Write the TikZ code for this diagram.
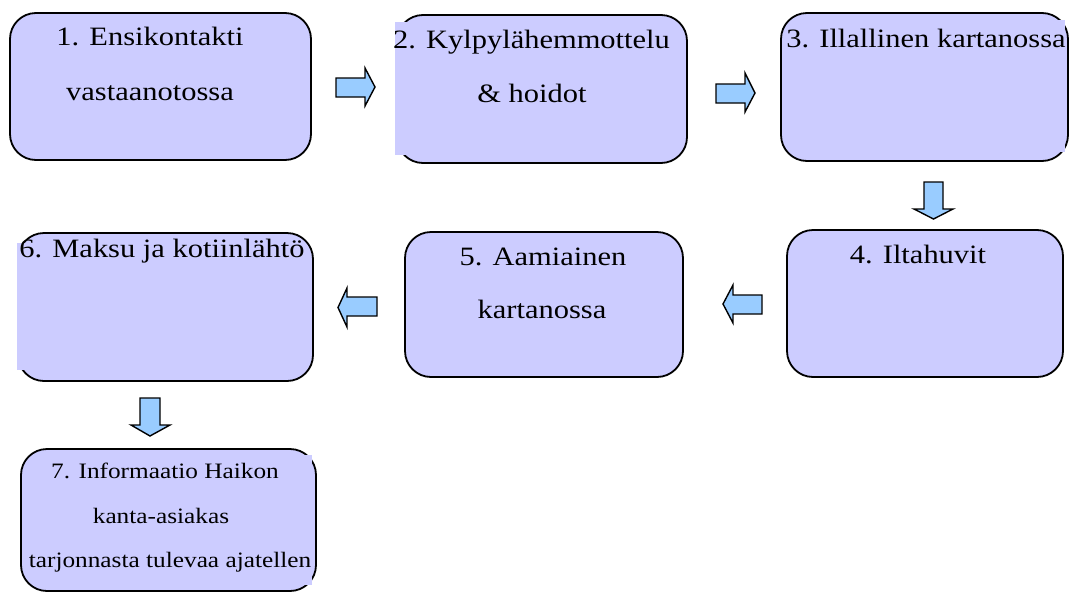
\documentclass[tikz,border=0pt]{standalone}
\usepackage{fontspec}
\setmainfont{Liberation Serif}[FakeStretch=1.15]
\definecolor{boxfill}{HTML}{CCCCFF}
\definecolor{arrowfill}{HTML}{99CCFF}
\tikzset{
  stagebox/.style={draw=black, line width=1.8pt, fill=boxfill, rounded corners=26pt,
    inner sep=0pt, outer sep=0pt},
  textbg/.style={fill=boxfill, draw=none},
  stagetext/.style={anchor=base, inner sep=0pt, text=black,
    font=\fontsize{26.5}{30}\selectfont},
  smalltext/.style={stagetext, font=\fontsize{22}{26}\selectfont},
  blockarrow/.style={draw=black, line width=1.4pt, fill=arrowfill, line join=miter},
}
\begin{document}
\begin{tikzpicture}[x=1pt, y=-1pt]
\useasboundingbox (0,0) rectangle (1074,592);

% stage boxes
\node[stagebox, minimum width=301pt, minimum height=147pt] (b1) at (160.5,86.5) {};
\node[stagebox, minimum width=290pt, minimum height=148pt] (b2) at (542,89) {};
\node[stagebox, minimum width=287pt, minimum height=148pt] (b3) at (924.5,87) {};
\node[stagebox, minimum width=276pt, minimum height=147pt] (b4) at (925,303.5) {};
\node[stagebox, minimum width=278pt, minimum height=145pt] (b5) at (544,304.5) {};
\node[stagebox, minimum width=295pt, minimum height=148pt] (b6) at (165.5,307) {};
\node[stagebox, minimum width=295pt, minimum height=142pt] (b7) at (168.5,520) {};

% square text backgrounds lying over the outlines
\fill[textbg] (395,22) rectangle (600,155);
\fill[textbg] (800,20) rectangle (1065,152);
\fill[textbg] (17,243) rectangle (200,370);
\fill[textbg] (40,455) rectangle (312,585);

% block arrows between the stages
\draw[blockarrow] (336,78) -- (365,78) -- (365,68) -- (375,87) -- (365,106) -- (365,97) -- (336,97) -- cycle;
\draw[blockarrow] (716,84) -- (745,84) -- (745,73) -- (755,93) -- (745,112) -- (745,103) -- (716,103) -- cycle;
\draw[blockarrow] (924,182) -- (943,182) -- (943,209) -- (953,209) -- (933.5,219) -- (914,209) -- (924,209) -- cycle;
\draw[blockarrow] (762,295) -- (733,295) -- (733,285) -- (723,304) -- (733,323) -- (733,314) -- (762,314) -- cycle;
\draw[blockarrow] (377,297) -- (347,297) -- (347,288) -- (338,307.5) -- (347,327) -- (347,316) -- (377,316) -- cycle;
\draw[blockarrow] (140,398) -- (160,398) -- (160,425) -- (170,425) -- (150,436) -- (131,425) -- (140,425) -- cycle;

% labels
\node[stagetext] (t1a) at (150,45) {1. Ensikontakti};
\node[stagetext] (t1b) at (150,100) {vastaanotossa};
\node[stagetext] (t2a) at (531.5,48) {2. Kylpylähemmottelu};
\node[stagetext] (t2b) at (532,102) {\& hoidot};
\node[stagetext] (t3) at (926,47) {3. Illallinen kartanossa};
\node[stagetext] (t4) at (918,263) {4. Iltahuvit};
\node[stagetext] (t5a) at (543,265) {5. Aamiainen};
\node[stagetext] (t5b) at (542,318) {kartanossa};
\node[stagetext] (t6) at (162,257) {6. Maksu ja kotiinlähtö};
\node[smalltext] (t7a) at (165,478) {7. Informaatio Haikon};
\node[smalltext] (t7b) at (161,523) {kanta-asiakas};
\node[smalltext] (t7c) at (170,567) {tarjonnasta tulevaa ajatellen};
\end{tikzpicture}
\end{document}
